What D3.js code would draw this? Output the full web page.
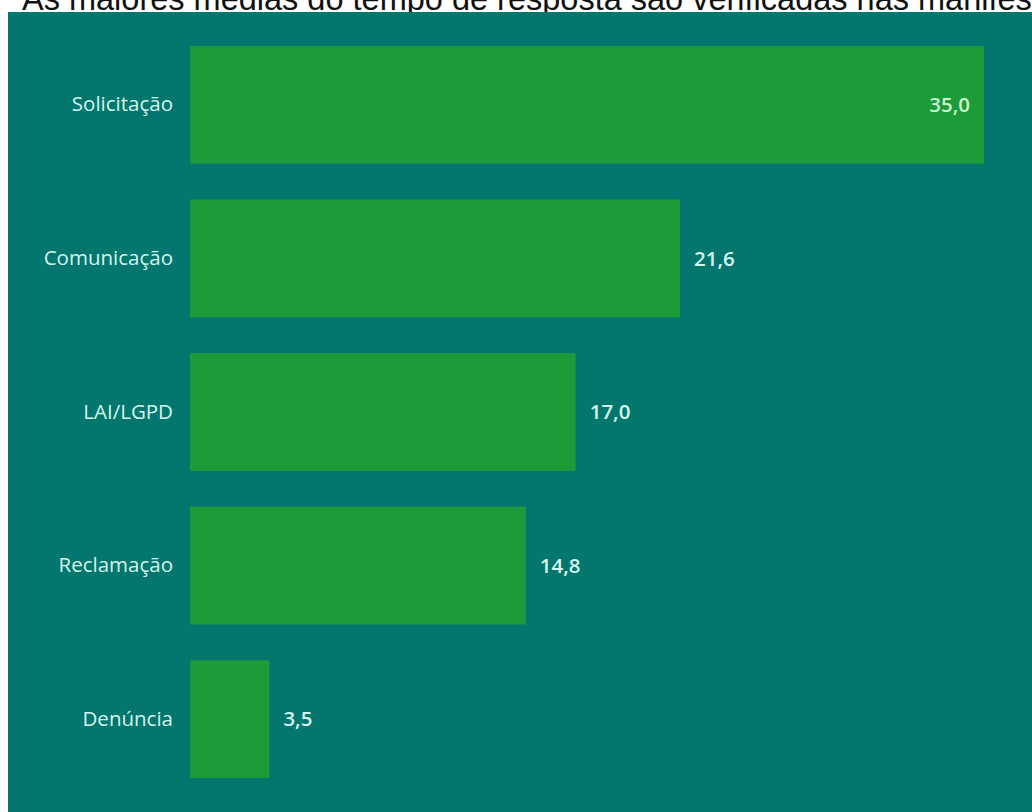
<!DOCTYPE html>
<html>
<head>
<meta charset="utf-8">
<script src="https://cdn.jsdelivr.net/npm/d3@7"></script>
<style>
  body { margin: 0; background: #ffffff; }
  svg { display: block; }
</style>
</head>
<body>
<svg id="s" width="1032" height="812"></svg>
<script>
var svg = d3.select("#s");

var categorias = ["Solicitação", "Comunicação", "LAI/LGPD", "Reclamação", "Denúncia"];
var valores = [35.0, 21.6, 17.0, 14.8, 3.5];
var titulo = "As maiores médias do tempo de resposta são verificadas nas manifestações";

var info = categorias.map(function(c, i) { return {cat: c, v: valores[i]}; });

// titulo cortado no topo, como na imagem
svg.append("text")
  .attr("x", 22).attr("y", 10)
  .attr("font-family", "Liberation Sans, Arial, sans-serif")
  .attr("font-size", 32.5)
  .attr("fill", "#111")
  .text(titulo);

// painel
svg.append("rect")
  .attr("x", 8).attr("y", 12)
  .attr("width", 1024).attr("height", 800)
  .attr("fill", "#03776d");

var x = d3.scaleLinear().domain([0, 35]).range([190, 984]);
var y = d3.scaleBand().domain(categorias).range([46, 778]).paddingInner(0.234).paddingOuter(0);

var g = svg.append("g");

g.selectAll("rect.bar").data(info).enter().append("rect")
  .attr("class", "bar")
  .attr("x", x(0))
  .attr("y", function(d) { return y(d.cat); })
  .attr("width", function(d) { return x(d.v) - x(0); })
  .attr("height", y.bandwidth())
  .attr("fill", "#1e9b39");

var yAxis = d3.axisLeft(y).tickSize(0).tickPadding(17);
var ax = svg.append("g").attr("transform", "translate(190,0)").call(yAxis);
ax.select(".domain").remove();
ax.selectAll("text")
  .attr("font-family", "Open Sans, Noto Sans, sans-serif")
  .attr("font-size", 20.5)
  .attr("font-weight", 500)
  .attr("fill", "#d6f3ee");

var fmt = function(v) { return d3.format(".1f")(v).replace(".", ","); };

g.selectAll("text.val").data(info).enter().append("text")
  .attr("class", "val")
  .attr("x", function(d) { return d.v > 30 ? x(d.v) - 14 : x(d.v) + 14; })
  .attr("y", function(d) { return y(d.cat) + y.bandwidth() / 2; })
  .attr("dy", "0.35em")
  .attr("text-anchor", function(d) { return d.v > 30 ? "end" : "start"; })
  .attr("font-family", "Open Sans, Noto Sans, sans-serif")
  .attr("font-size", 20.5)
  .attr("font-weight", 600)
  .attr("fill", function(d) { return d.v > 30 ? "#c9f5cf" : "#d6f3ee"; })
  .text(function(d) { return fmt(d.v); });
</script>
</body>
</html>
